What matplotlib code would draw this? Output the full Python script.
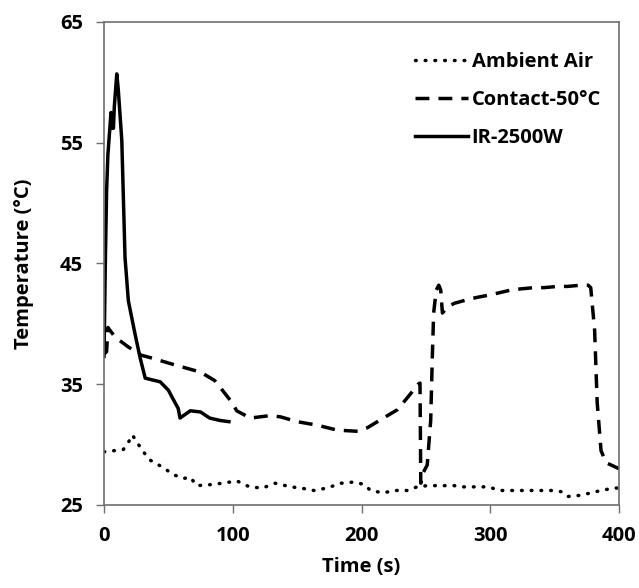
import matplotlib
matplotlib.use("Agg")
import matplotlib.pyplot as plt

# Ambient Air (dotted)
amb_t = [0, 8, 15, 18, 22, 25, 28, 32, 36, 46, 54, 62, 67, 72, 85, 98, 103, 113, 123, 133,
         145, 153, 163, 173, 184, 194, 202, 207, 217, 225, 236, 243, 251, 272, 277, 298,
         308, 324, 349, 355, 360, 370, 386, 396, 400]
amb_T = [29.4, 29.5, 29.6, 30.0, 30.8, 30.3, 29.8, 29.2, 28.7, 28.1, 27.5, 27.2, 27.3, 26.6,
         26.7, 26.9, 27.0, 26.5, 26.4, 26.8, 26.5, 26.4, 26.2, 26.4, 26.8, 26.9, 26.7, 26.2,
         26.0, 26.2, 26.2, 26.5, 26.6, 26.6, 26.5, 26.5, 26.2, 26.2, 26.2, 26.1, 25.7, 25.8,
         26.2, 26.4, 26.4]

# Contact-50°C (dashed)
con_t = [0, 2, 3, 8.6, 18.7, 29, 36, 55, 75, 86, 92.7, 100, 103, 113.6, 129, 137, 150, 166,
         181, 197, 204.6, 217, 228, 238, 244, 245.4, 246, 247.5, 251, 253.7, 255, 256, 258,
         260, 261.5, 262.8, 267, 272, 282, 290, 300, 308, 316, 324, 334, 342, 352, 360, 370,
         376, 378, 381, 383, 386, 390, 400]
con_T = [37.5, 37.7, 39.7, 38.9, 38.1, 37.4, 37.2, 36.6, 36.0, 35.3, 34.4, 33.4, 32.8, 32.2,
         32.4, 32.3, 31.9, 31.6, 31.2, 31.1, 31.4, 32.2, 32.9, 34.2, 35.0, 35.1, 26.8, 27.6,
         28.3, 32.0, 37.4, 40.9, 42.8, 43.2, 42.8, 40.9, 41.4, 41.7, 42.0, 42.2, 42.4, 42.6,
         42.8, 42.9, 43.0, 43.0, 43.1, 43.1, 43.2, 43.2, 43.0, 39.5, 33.5, 29.5, 28.5, 28.0]

# IR-2500W (solid)
ir_t = [0, 1, 2, 3, 5.4, 6, 7.3, 8, 9.9, 11, 13.8, 16.3, 18.9, 24, 28, 32, 43.6, 50, 55, 57.6,
        59, 63, 67, 75, 82, 90, 97]
ir_T = [37.3, 45.0, 51.0, 54.0, 57.5, 56.2, 56.2, 58.0, 60.7, 59.5, 55.2, 45.5, 41.9, 39.2,
        37.2, 35.5, 35.2, 34.5, 33.5, 33.0, 32.2, 32.5, 32.8, 32.7, 32.2, 32.0, 31.9]

x_ticks = [0, 100, 200, 300, 400]
y_ticks = [25, 35, 45, 55, 65]

plt.rcParams['font.family'] = ['Open Sans', 'DejaVu Sans']
plt.rcParams['font.weight'] = 'bold'
FS = 14.5

fig = plt.figure(figsize=(6.39, 5.88), dpi=100)
ax = fig.add_axes([0.1628, 0.1412, 0.806, 0.8214])

ax.plot(amb_t, amb_T, color='black', lw=2.5, linestyle=(0, (0.2, 2.6)),
        dash_capstyle='round', solid_capstyle='round', label='Ambient Air')
ax.plot(con_t, con_T, color='black', lw=2.5, linestyle=(0, (4.0, 2.6)),
        label='Contact-50°C')
ax.plot(ir_t, ir_T, color='black', lw=2.5, label='IR-2500W')

ax.set_xlim(0, 400)
ax.set_ylim(25, 65)
ax.set_xticks(x_ticks)
ax.set_yticks(y_ticks)
ax.tick_params(axis='both', direction='out', length=6, width=1, color='#6e6e6e',
               labelsize=FS, pad=9)
for lab in ax.get_xticklabels() + ax.get_yticklabels():
    lab.set_fontweight('bold')
for s in ax.spines.values():
    s.set_color('#6e6e6e')
    s.set_linewidth(1.2)

ax.set_xlabel('Time (s)', fontsize=FS, fontweight='bold', labelpad=8)
ax.set_ylabel('Temperature (°C)', fontsize=FS, fontweight='bold', labelpad=19)

leg = ax.legend(loc='upper right', frameon=False, fontsize=FS, handlelength=2.6,
                handletextpad=0.2, labelspacing=0.9, bbox_to_anchor=(1.0, 0.975))
for t in leg.get_texts():
    t.set_fontweight('bold')

fig.savefig('out.png', dpi=100)
